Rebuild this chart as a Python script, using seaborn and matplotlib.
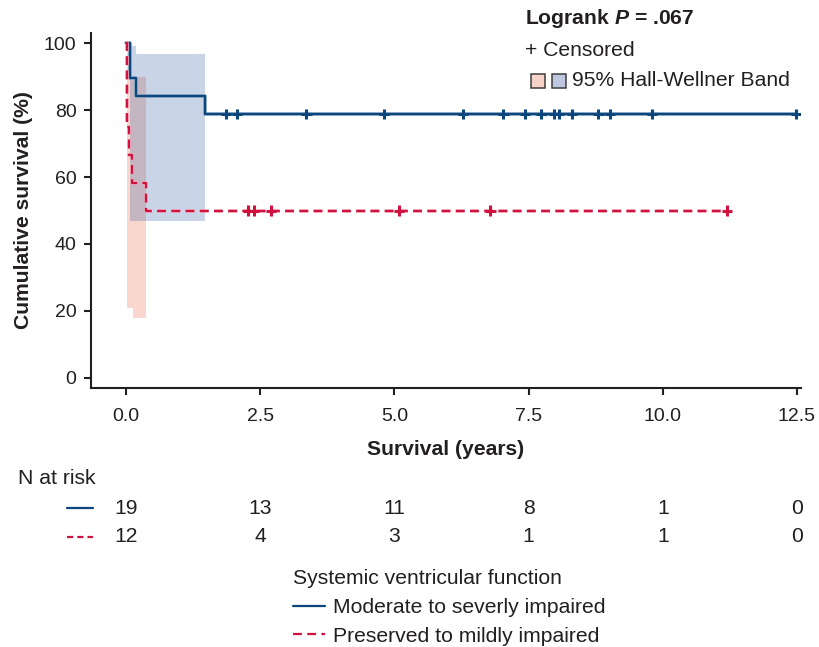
import numpy as np
import pandas as pd
import matplotlib
matplotlib.use("Agg")
import matplotlib.pyplot as plt
import seaborn as sns
from matplotlib.lines import Line2D
from matplotlib.patches import Rectangle
from matplotlib.ticker import FormatStrFormatter
from matplotlib.transforms import blended_transform_factory
import matplotlib.patheffects as pe

# ---------------- data ----------------
groups = ["Moderate to severly impaired", "Preserved to mildly impaired"]

mod_step_time = [0.0, 0.07, 0.18, 1.48, 12.48]
mod_step_surv = [100.0, 89.5, 84.2, 78.9, 78.9]
mod_censor_time = [1.86, 2.07, 3.36, 4.81, 6.28, 7.03, 7.43, 7.74, 7.98,
                   8.07, 8.31, 8.80, 9.02, 9.80, 12.48]

pres_step_time = [0.0, 0.024, 0.061, 0.117, 0.37, 11.2]
pres_step_surv = [100.0, 75.0, 66.7, 58.3, 50.0, 50.0]
pres_censor_time = [2.28, 2.385, 2.70, 5.09, 6.79, 11.2]

mod_band_time = [0.07, 0.18, 1.48]
mod_band_upper = [99.1, 96.7, 96.7]
mod_band_lower = [47.0, 47.0, 47.0]

pres_band_time = [0.013, 0.075, 0.136, 0.373]
pres_band_upper = [100.0, 90.0, 90.0, 90.0]
pres_band_lower = [20.8, 20.8, 17.8, 17.8]

risk_times = [0.0, 2.5, 5.0, 7.5, 10.0, 12.5]
mod_at_risk = [19, 13, 11, 8, 1, 0]
pres_at_risk = [12, 4, 3, 1, 1, 0]

y_ticks = [0, 20, 40, 60, 80, 100]

# ---------------- style ----------------
sns.set_style("ticks")
plt.rcParams["font.family"] = ["Liberation Sans", "DejaVu Sans"]
plt.rcParams["mathtext.fontset"] = "custom"
plt.rcParams["mathtext.rm"] = "Liberation Sans"
plt.rcParams["mathtext.bf"] = "Liberation Sans:bold"
plt.rcParams["mathtext.it"] = "Liberation Sans:italic"
plt.rcParams["mathtext.bfit"] = "Liberation Sans:italic:bold"

BLUE = "#0b477d"
RED = "#d2123e"
INK = "#231f20"
RED_DASH = (4.0, 2.4)
FS = 15.2

fig = plt.figure(figsize=(8.19, 6.47), dpi=100)
ax = fig.add_axes([91 / 819, 1 - 388 / 647, 710 / 819, 355 / 647])

# confidence bands
ax.fill_between(pres_band_time, pres_band_lower, pres_band_upper, step="post",
                color="#e8603c", alpha=0.25, lw=0, zorder=1)
ax.fill_between(mod_band_time, mod_band_lower, mod_band_upper, step="post",
                color="#1f4e99", alpha=0.24, lw=0, zorder=1.1)

# survival curves
curves = pd.DataFrame({
    "time": mod_step_time + pres_step_time,
    "surv": mod_step_surv + pres_step_surv,
    "group": [groups[0]] * len(mod_step_time) + [groups[1]] * len(pres_step_time),
})
palette = {groups[0]: BLUE, groups[1]: RED}
sns.lineplot(data=curves, x="time", y="surv", hue="group", style="group",
             palette=palette, dashes={groups[0]: "", groups[1]: RED_DASH},
             drawstyle="steps-post", estimator=None, sort=False, legend=False,
             linewidth=1.6, ax=ax, zorder=3)
halo = {BLUE: "#8aa6c6", RED: "#f2a9b8"}
for ln in ax.lines:
    c = matplotlib.colors.to_hex(ln.get_color())
    ln.set_path_effects([pe.Stroke(linewidth=2.6, foreground=halo.get(c, "#cccccc")),
                         pe.Normal()])


def surv_at(times, survs, t):
    idx = np.searchsorted(np.asarray(times), np.asarray(t), side="right") - 1
    return list(np.asarray(survs)[idx])


censors = pd.DataFrame({
    "time": mod_censor_time + pres_censor_time,
    "surv": surv_at(mod_step_time, mod_step_surv, mod_censor_time)
    + surv_at(pres_step_time, pres_step_surv, pres_censor_time),
    "group": [groups[0]] * len(mod_censor_time) + [groups[1]] * len(pres_censor_time),
})
sns.scatterplot(data=censors, x="time", y="surv", hue="group", palette=palette,
                marker="+", s=55, linewidth=2.2, legend=False, ax=ax, zorder=5)

# axes
ax.set_xlim(-0.652, 12.575)
ax.set_ylim(-3, 103)
ax.set_xticks(risk_times)
ax.xaxis.set_major_formatter(FormatStrFormatter("%.1f"))
ax.set_yticks(y_ticks)
for s in ["top", "right"]:
    ax.spines[s].set_visible(False)
for s in ["left", "bottom"]:
    ax.spines[s].set_linewidth(1.5)
    ax.spines[s].set_color(INK)
ax.tick_params(axis="both", length=5, width=1.5, color=INK, labelcolor=INK,
               labelsize=14)
ax.tick_params(axis="x", pad=9.5)
ax.tick_params(axis="y", pad=5.5)
ax.set_xlabel("Survival (years)", fontsize=FS, fontweight="bold", color=INK,
              labelpad=10.5)
ax.set_ylabel("Cumulative survival (%)", fontsize=FS, fontweight="bold",
              color=INK, labelpad=8)

# top-right annotations
fig.text(525 / 819, 1 - 19 / 647, r"Logrank $\mathbfit{P}$ = .067", fontsize=FS,
         fontweight="bold", color=INK, ha="left", va="center")
fig.text(525 / 819, 1 - 50 / 647, "+ Censored", fontsize=FS, color=INK,
         ha="left", va="center")
for x0, fc in [(531, "#f7d2c9"), (551.5, "#bdc8e0")]:
    fig.add_artist(Rectangle((x0 / 819, 1 - 87.5 / 647), 14 / 819, 14 / 647,
                             transform=fig.transFigure, facecolor=fc,
                             edgecolor="#3d3d3d", lw=1.1))
fig.text(572 / 819, 1 - 80 / 647, "95% Hall-Wellner Band", fontsize=FS,
         color=INK, ha="left", va="center")

# number at risk table
fig.text(18 / 819, 1 - 478 / 647, "N at risk", fontsize=FS, color=INK,
         ha="left", va="center")
trans = blended_transform_factory(ax.transData, fig.transFigure)
for ypx, counts, color, ls in [(508, mod_at_risk, BLUE, "-"),
                               (537, pres_at_risk, RED, (0, (2.8, 1.8)))]:
    fig.add_artist(Line2D([67 / 819, 93 / 819], [1 - ypx / 647] * 2,
                          transform=fig.transFigure, color=color, lw=1.6,
                          linestyle=ls))
    for t, n in zip(risk_times, counts):
        ax.text(t, 1 - ypx / 647, str(n), transform=trans, fontsize=FS,
                color=INK, ha="center", va="center", clip_on=False)

# bottom legend
handles = [Line2D([], [], color=BLUE, lw=1.6),
           Line2D([], [], color=RED, lw=1.6, linestyle=(0, RED_DASH))]
leg = fig.legend(handles, groups, title="Systemic ventricular function",
                 loc="upper left", bbox_to_anchor=(293 / 819, 1 - 569 / 647),
                 bbox_transform=fig.transFigure, frameon=False, fontsize=FS,
                 title_fontsize=FS, alignment="left", handlelength=1.5,
                 handletextpad=0.38, labelspacing=0.47, borderpad=0,
                 borderaxespad=0)
for t in leg.get_texts():
    t.set_color(INK)
leg.get_title().set_color(INK)

fig.savefig("out.png", dpi=100)
